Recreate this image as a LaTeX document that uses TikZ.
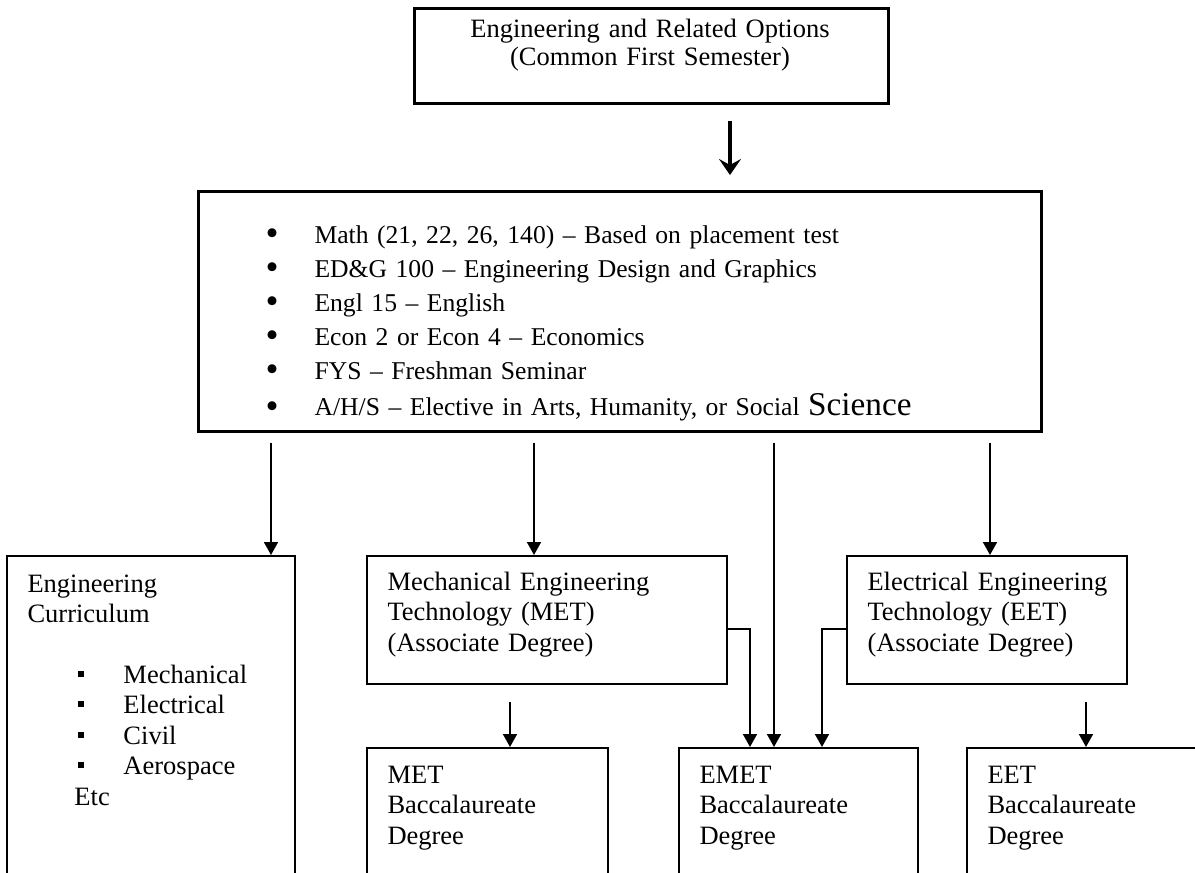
\documentclass[tikz,border=0pt]{standalone}
\usepackage{fontspec}
\usepackage{graphicx}
\setmainfont{Liberation Serif}
\usetikzlibrary{arrows.meta}

\newcommand{\bul}{\makebox[19.6pt][l]{\smash{\raisebox{-1pt}{\scalebox{1.45}{\textbullet}}}}}

\begin{document}
\begin{tikzpicture}[x=0.4pt, y=-0.4pt,
    box/.style={draw, line width=0.7pt, anchor=north west, inner sep=0pt},
    bigbox/.style={box, line width=1pt},
    txt/.style={anchor=base west, inner sep=0pt, text width=#1, align=left,
      font=\fontsize{10.6}{12.2}\selectfont},
    txt/.default=120pt,
    arr/.style={line width=0.7pt, -{Triangle[length=5.2pt, width=5.6pt]}},
    bigarr/.style={line width=1.3pt, -{Stealth[length=6.4pt, width=8.8pt, inset=2.4pt]}}]

  \useasboundingbox (0,0) rectangle (1195,873);
  \clip (0,0) rectangle (1195,873);

  % boxes (the lower ones run off the page)
  \node[bigbox, minimum width=189.6pt, minimum height=38pt] (first) at (413,7) {};
  \node[bigbox, minimum width=337.2pt, minimum height=96pt] (core) at (197,190) {};
  \node[box, minimum width=115.2pt, minimum height=140pt] (eng) at (6,555) {};
  \node[box, minimum width=144pt, minimum height=51.2pt] (met) at (366,555) {};
  \node[box, minimum width=112pt, minimum height=51.2pt] (eet) at (846,555) {};
  \node[box, minimum width=96.4pt, minimum height=60pt] (metb) at (366,747) {};
  \node[box, minimum width=95.6pt, minimum height=60pt] (emet) at (678,747) {};
  \node[box, minimum width=120pt, minimum height=60pt] (eetb) at (966,747) {};

  % texts
  \node[txt=200pt, align=center, anchor=base, font=\fontsize{10.6}{11.2}\selectfont]
    (firstlbl) at (650,37) {Engineering and Related Options\\(Common First Semester)};
  \node[txt=280pt, font=\fontsize{10.25}{13.6}\selectfont] (corelist) at (265,243) {%
    \bul Math (21, 22, 26, 140) – Based on placement test\\
    \bul ED\&G 100 – Engineering Design and Graphics\\
    \bul Engl 15 – English\\
    \bul Econ 2 or Econ 4 – Economics\\
    \bul FYS – Freshman Seminar\\[1pt]
    \bul A/H/S – Elective in Arts, Humanity, or Social
    {\fontsize{13.3}{13.6}\selectfont Science}};
  \node[txt] (englbl) at (27,592) {Engineering\\Curriculum};
  \node[txt] (englist) at (77,683) {%
    \makebox[18.4pt][l]{\rule[2.6pt]{2.4pt}{2.4pt}}Mechanical\\
    \makebox[18.4pt][l]{\rule[2.6pt]{2.4pt}{2.4pt}}Electrical\\
    \makebox[18.4pt][l]{\rule[2.6pt]{2.4pt}{2.4pt}}Civil\\
    \makebox[18.4pt][l]{\rule[2.6pt]{2.4pt}{2.4pt}}Aerospace\\
    \hspace*{-1.2pt}Etc};
  \node[txt] (metlbl) at (387,590) {Mechanical Engineering\\Technology (MET)\\(Associate Degree)};
  \node[txt] (eetlbl) at (867,590) {Electrical Engineering\\Technology (EET)\\(Associate Degree)};
  \node[txt] (metblbl) at (387,783) {MET\\Baccalaureate\\Degree};
  \node[txt] (emetlbl) at (699,783) {EMET\\Baccalaureate\\Degree};
  \node[txt] (eetblbl) at (987,783) {EET\\Baccalaureate\\Degree};

  % connectors
  \coordinate (dn) at (730,0);
  \coordinate (c1) at (271,0);
  \coordinate (c2) at (534,0);
  \coordinate (c3) at (990,0);
  \coordinate (c4) at (774,0);
  \coordinate (c5) at (750,0);
  \coordinate (c6) at (822,0);
  \coordinate (c7) at (510,0);
  \coordinate (c8) at (1086,0);

  \draw[bigarr, shorten <=6.4pt, shorten >=6pt] (first.south -| dn) -- (core.north -| dn);
  \draw[arr, shorten <=4pt] (core.south -| c1) -- (eng.north -| c1);
  \draw[arr, shorten <=4pt] (core.south -| c2) -- (met.north -| c2);
  \draw[arr, shorten <=4pt] (core.south -| c3) -- (eet.north -| c3);
  \draw[arr, shorten <=4pt] (core.south -| c4) -- (emet.north -| c4);
  \draw[arr] ([yshift=-3.6pt]met.east) -| (emet.north -| c5);
  \draw[arr] ([yshift=-3.6pt]eet.west) -| (emet.north -| c6);
  \draw[arr, shorten <=6.8pt] (met.south -| c7) -- (metb.north -| c7);
  \draw[arr, shorten <=6.8pt] (eet.south -| c8) -- (eetb.north -| c8);
\end{tikzpicture}
\end{document}
